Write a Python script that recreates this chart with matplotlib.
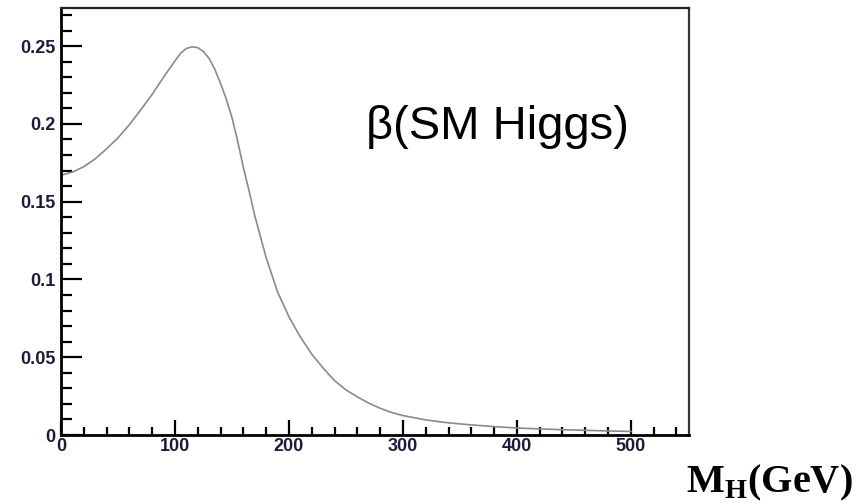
import matplotlib
matplotlib.use("Agg")
import matplotlib.pyplot as plt
from matplotlib import font_manager
from matplotlib.ticker import MultipleLocator, FixedLocator

# Data (Higgs mass in GeV, beta value)
mass = [0, 10, 20, 30, 40, 50, 60, 70, 80, 90, 100, 105, 110, 115, 120, 125,
        130, 135, 140, 145, 150, 155, 160, 165, 170, 180, 190, 200, 210, 220,
        230, 240, 250, 260, 270, 280, 290, 300, 320, 340, 360, 380, 400, 420,
        440, 460, 480, 500]
beta = [0.167, 0.169, 0.1725, 0.1775, 0.184, 0.191, 0.1995, 0.209, 0.219,
        0.230, 0.2405, 0.2455, 0.2485, 0.2495, 0.249, 0.2465, 0.242, 0.235,
        0.226, 0.216, 0.204, 0.189, 0.172, 0.157, 0.141, 0.114, 0.092, 0.076,
        0.063, 0.052, 0.043, 0.035, 0.029, 0.0245, 0.0205, 0.0172, 0.0145,
        0.0125, 0.0097, 0.0078, 0.0065, 0.0054, 0.0045, 0.0039, 0.0034,
        0.0030, 0.0026, 0.0023]

x_major = [0, 100, 200, 300, 400, 500]
x_labels = ["0", "100", "200", "300", "400", "500"]
y_major = [0, 0.05, 0.1, 0.15, 0.2, 0.25]
y_labels = ["0", "0.05", "0.1", "0.15", "0.2", "0.25"]

plt.rcParams["mathtext.fontset"] = "custom"
plt.rcParams["mathtext.rm"] = "Liberation Serif"
plt.rcParams["mathtext.bf"] = "Liberation Serif:bold"

names = {f.name for f in font_manager.fontManager.ttflist}
if "Liberation Sans Narrow" in names:
    title_family, title_size = "Liberation Sans Narrow", 41
else:
    title_family, title_size = "Liberation Sans", 34

fig = plt.figure(figsize=(8.57, 5.04), dpi=100)
ax = fig.add_axes([61/857, 1-435/504, (689-61)/857, (435-8)/504])

ax.plot(mass, beta, color="#8a8a8a", lw=1.2)

ax.set_xlim(0, 551)
ax.set_ylim(0, 0.2745)

ax.xaxis.set_major_locator(FixedLocator(x_major))
ax.xaxis.set_minor_locator(MultipleLocator(20))
ax.yaxis.set_major_locator(FixedLocator(y_major))
ax.yaxis.set_minor_locator(MultipleLocator(0.01))
ax.set_xticklabels(x_labels)
ax.set_yticklabels(y_labels)

lab_color = "#1c1c3c"
ax.tick_params(axis="y", which="major", direction="in", length=15, width=1.6,
               pad=4, labelsize=13, labelcolor=lab_color)
ax.tick_params(axis="y", which="minor", direction="in", length=8, width=1.6)
ax.tick_params(axis="x", which="major", direction="in", length=11, width=1.6,
               pad=2, labelsize=13, labelcolor=lab_color)
ax.tick_params(axis="x", which="minor", direction="in", length=6, width=1.6)
for lbl in ax.get_xticklabels() + ax.get_yticklabels():
    lbl.set_fontweight("bold")
    lbl.set_family("Liberation Sans")

ax.spines["left"].set_linewidth(2.0)
ax.spines["bottom"].set_linewidth(2.0)
ax.spines["top"].set_linewidth(1.6)
ax.spines["right"].set_linewidth(1.6)
ax.spines["top"].set_color("#222222")
ax.spines["right"].set_color("#333333")

fig.text(366/857, 1-139/504, "β(SM Higgs)", fontsize=title_size,
         family=title_family, color="black", ha="left", va="baseline")

fig.text(686/857, 1-492/504, r"$\mathbf{M}_{\mathbf{H}}$(GeV)", fontsize=29,
         family="Liberation Serif", fontweight="bold", ha="left", va="baseline")

fig.savefig("out.png", dpi=100)
